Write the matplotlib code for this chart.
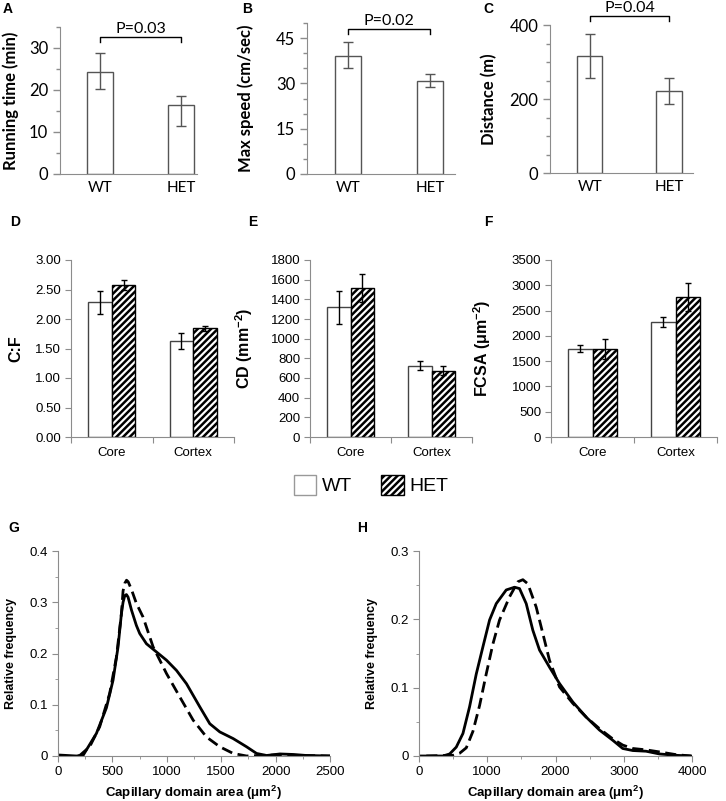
import numpy as np
import matplotlib
matplotlib.use("Agg")
from matplotlib import pyplot as plt
from matplotlib.patches import Patch
from matplotlib.ticker import MultipleLocator, FuncFormatter
import matplotlib.transforms as mtrans

# ---- data ----
groups = ["WT", "HET"]

# top row (A-C): mean, lower err, upper err
run_time = [24.4, 16.5]
run_time_lo = [4.1, 5.0]
run_time_hi = [4.4, 2.1]
max_speed = [39.2, 30.9]
max_speed_lo = [4.2, 2.2]
max_speed_hi = [4.5, 2.2]
distance = [317, 222]
distance_lo = [59, 35]
distance_hi = [60, 34]
p_values = ["P=0.03", "P=0.02", "P=0.04"]

# middle row (D-F): Core, Cortex
regions = ["Core", "Cortex"]
cf_wt = [2.28, 1.63]
cf_wt_err = [0.19, 0.14]
cf_het = [2.58, 1.84]
cf_het_err = [0.085, 0.035]
cd_wt = [1318, 727]
cd_wt_err = [165, 42]
cd_het = [1515, 676]
cd_het_err = [138, 44]
fcsa_wt = [1743, 2272]
fcsa_wt_err = [69, 95]
fcsa_het = [1743, 2767]
fcsa_het_err = [198, 271]

# bottom row (G-H): capillary domain area distributions
g_wt_x = [0, 169, 230, 353, 445, 506, 552, 583, 598, 614, 629, 644, 675, 720, 751, 813,
          905, 997, 1089, 1181, 1303, 1395, 1487, 1610, 1733, 1825, 1917, 2040, 2162,
          2285, 2500]
g_wt_y = [0.002, 0.0, 0.001, 0.044, 0.094, 0.148, 0.213, 0.278, 0.300, 0.313, 0.315,
          0.310, 0.285, 0.255, 0.239, 0.219, 0.203, 0.187, 0.167, 0.141, 0.096, 0.063,
          0.047, 0.034, 0.018, 0.005, 0.001, 0.004, 0.003, 0.001, 0.0]
g_het_x = [184, 200, 291, 383, 475, 537, 583, 598, 614, 630, 645, 675, 720, 782, 874,
           997, 1120, 1242, 1365, 1487, 1610, 1733, 2000, 2500]
g_het_y = [0.0, 0.001, 0.018, 0.057, 0.122, 0.193, 0.278, 0.322, 0.337, 0.343, 0.340,
           0.325, 0.298, 0.271, 0.213, 0.161, 0.115, 0.07, 0.037, 0.018, 0.005, 0.0,
           0.002, 0.0]
h_wt_x = [0, 351, 449, 546, 644, 741, 839, 937, 1034, 1132, 1278, 1400, 1473, 1571, 1668,
          1766, 1912, 2059, 2254, 2449, 2644, 2839, 2985, 3132, 3327, 3522, 3766, 3985]
h_wt_y = [0.0, 0.0, 0.003, 0.013, 0.033, 0.072, 0.12, 0.16, 0.199, 0.223, 0.243, 0.247,
          0.245, 0.223, 0.184, 0.155, 0.13, 0.106, 0.079, 0.057, 0.038, 0.023, 0.011,
          0.008, 0.007, 0.003, 0.001, 0.0]
h_het_x = [107, 500, 595, 693, 790, 888, 985, 1083, 1180, 1327, 1449, 1522, 1595, 1717,
           1815, 1912, 2059, 2254, 2449, 2644, 2839, 2985, 3132, 3327, 3522, 3766, 3985]
h_het_y = [0.0, 0.001, 0.004, 0.012, 0.036, 0.074, 0.12, 0.164, 0.199, 0.233, 0.255,
           0.258, 0.252, 0.218, 0.179, 0.14, 0.101, 0.077, 0.057, 0.04, 0.025, 0.016,
           0.011, 0.009, 0.006, 0.002, 0.0]

W, H = 726, 801
plt.rcParams['hatch.linewidth'] = 1.8
plt.rcParams['mathtext.default'] = 'regular'
fig = plt.figure(figsize=(W / 100, H / 100), dpi=100)


def box(x0, y0, x1, y1):
  return [x0 / W, 1 - y1 / H, (x1 - x0) / W, (y1 - y0) / H]


def letter(x, y, s):
  fig.text(x / W, 1 - y / H, s, fontsize=10, fontweight='bold',
           family='Liberation Sans', va='center', ha='left')


SPINE = '#8c8c8c'
top_font = 'Lato'
arial = 'Liberation Sans'

# ---- top row ----
top = [
  (box(60, 27, 197, 174), run_time, run_time_lo, run_time_hi, 35, 10, 5, 1.2,
   'Running time (min)', -0.30, 0.93, 'A', 3),
  (box(307, 23, 455, 174), max_speed, max_speed_lo, max_speed_hi, 50, 15, 5, 1.3,
   'Max speed (cm/sec)', -0.36, 0.96, 'B', 242),
  (box(550, 25, 693, 173), distance, distance_lo, distance_hi, 400, 200, 50, 1.3,
   'Distance (m)', -0.37, 1.06, 'C', 483),
]
for i, (rect, vals, lo, hi, ymax, major, minor, xr, ylab, lx, bf, let, lpx) in enumerate(top):
  ax = fig.add_axes(rect)
  x = np.arange(len(groups))
  ax.bar(x, vals, width=0.32, color='white', edgecolor='#555555', linewidth=1)
  ax.errorbar(x, vals, yerr=[lo, hi], fmt='none', ecolor='#555555', elinewidth=1,
              capsize=3.5, capthick=1)
  ax.set_xlim(-0.5, xr)
  ax.set_ylim(0, ymax)
  ax.yaxis.set_major_locator(MultipleLocator(major))
  ax.yaxis.set_minor_locator(MultipleLocator(minor))
  ax.set_xticks(x)
  ax.set_xticklabels(groups, family=top_font, fontsize=11)
  for t in ax.get_yticklabels():
    t.set_family(top_font)
    t.set_fontsize(12)
  ax.tick_params(axis='x', length=0, pad=5)
  ax.tick_params(axis='y', which='major', length=5, color=SPINE, width=1)
  ax.tick_params(axis='y', which='minor', length=3, color=SPINE, width=1)
  for s in ['top', 'right']:
    ax.spines[s].set_visible(False)
  for s in ['left', 'bottom']:
    ax.spines[s].set_color(SPINE)
  ax.set_ylabel(ylab, family=top_font, fontweight='bold', fontsize=12)
  ax.yaxis.set_label_coords(lx, 0.5)
  # significance bracket
  tr = mtrans.blended_transform_factory(ax.transData, ax.transAxes)
  ax.plot([x[0], x[0], x[1], x[1]], [bf - 0.035, bf, bf, bf - 0.035], color='black',
          lw=1, transform=tr, clip_on=False)
  ax.text((x[0] + x[1]) / 2, bf + 0.055, p_values[i], transform=tr, ha='center',
          va='center', family=top_font, fontsize=11.5)
  letter(lpx, 9, let)

# ---- middle row ----
mid = [
  (box(71, 260, 234, 437), cf_wt, cf_wt_err, cf_het, cf_het_err, 3.0, 0.5,
   lambda v, p: '%.2f' % v, 'C:F', -0.29, 'D', 10),
  (box(310, 260, 472, 437), cd_wt, cd_wt_err, cd_het, cd_het_err, 1800, 200,
   lambda v, p: '%d' % v, 'CD (mm$^{-2}$)', -0.34, 'E', 248),
  (box(551, 260, 717, 437), fcsa_wt, fcsa_wt_err, fcsa_het, fcsa_het_err, 3500, 500,
   lambda v, p: '%d' % v, 'FCSA (μm$^{-2}$)', -0.35, 'F', 484),
]
bw = 0.29
for rect, wt, wte, het, hete, ymax, step, fmt, ylab, lx, let, lpx in mid:
  ax = fig.add_axes(rect)
  x = np.arange(len(regions))
  ax.bar(x - bw / 2, wt, width=bw, color='white', edgecolor='#444444', linewidth=1)
  ax.bar(x + bw / 2, het, width=bw, color='white', edgecolor='black', linewidth=1,
         hatch='/////')
  ax.errorbar(x - bw / 2, wt, yerr=wte, fmt='none', ecolor='black', elinewidth=1,
              capsize=2.5, capthick=1)
  ax.errorbar(x + bw / 2, het, yerr=hete, fmt='none', ecolor='black', elinewidth=1,
              capsize=2.5, capthick=1)
  ax.set_xlim(-0.5, len(regions) - 0.5)
  ax.set_ylim(0, ymax)
  ax.yaxis.set_major_locator(MultipleLocator(step))
  ax.yaxis.set_major_formatter(FuncFormatter(fmt))
  ax.set_xticks(np.arange(-0.5, len(regions), 1.0))
  ax.set_xticklabels([])
  ax.set_xticks(x, minor=True)
  ax.set_xticklabels(regions, minor=True, family=arial, fontsize=9.5)
  ax.tick_params(axis='x', which='minor', length=0, pad=7)
  ax.tick_params(axis='x', which='major', length=4, color=SPINE)
  ax.tick_params(axis='y', length=4, color=SPINE, pad=3)
  for t in ax.get_yticklabels():
    t.set_family(arial)
    t.set_fontsize(9.5)
  for s in ['top', 'right']:
    ax.spines[s].set_visible(False)
  for s in ['left', 'bottom']:
    ax.spines[s].set_color(SPINE)
  ax.set_ylabel(ylab, family=arial, fontweight='bold', fontsize=11.5)
  ax.yaxis.set_label_coords(lx, 0.5)
  letter(lpx, 222, let)

# legend
handles = [Patch(facecolor='white', edgecolor='#999999', label='WT'),
           Patch(facecolor='white', edgecolor='black', hatch='/////', label='HET')]
fig.legend(handles=handles, loc='center', bbox_to_anchor=(371 / W, 1 - 485 / H),
           ncol=2, frameon=False, prop={'family': arial, 'size': 14},
           handlelength=1.15, handleheight=1.25, handletextpad=0.3, columnspacing=1.5)

# ---- bottom row ----
bottom = [
  (box(58, 551, 330, 756), g_wt_x, g_wt_y, g_het_x, g_het_y, 2500, 500, 250, 0.4, 'G', 8),
  (box(419, 551, 692, 756), h_wt_x, h_wt_y, h_het_x, h_het_y, 4000, 1000, 500, 0.3, 'H', 357),
]
for rect, wx, wy, hx, hy, xmax, xmaj, xmin, ymax, let, lpx in bottom:
  ax = fig.add_axes(rect)
  ax.plot(wx, wy, color='black', lw=2.0, solid_joinstyle='round')
  ax.plot(hx, hy, color='black', lw=2.0, dashes=(4, 2))
  ax.set_xlim(0, xmax)
  ax.set_ylim(0, ymax)
  ax.xaxis.set_major_locator(MultipleLocator(xmaj))
  ax.xaxis.set_minor_locator(MultipleLocator(xmin))
  ax.yaxis.set_major_locator(MultipleLocator(0.1))
  ax.yaxis.set_minor_locator(MultipleLocator(0.05))
  ax.yaxis.set_major_formatter(FuncFormatter(lambda v, p: '0' if v == 0 else '%.1f' % v))
  ax.tick_params(which='major', length=4, color=SPINE)
  ax.tick_params(which='minor', length=2.5, color=SPINE)
  for t in ax.get_xticklabels() + ax.get_yticklabels():
    t.set_family(arial)
    t.set_fontsize(9.5)
  for s in ['top', 'right']:
    ax.spines[s].set_visible(False)
  for s in ['left', 'bottom']:
    ax.spines[s].set_color(SPINE)
  ax.set_xlabel('Capillary domain area (μm$^{2}$)', family=arial, fontweight='bold',
                fontsize=9.5)
  ax.xaxis.set_label_coords(0.5, -0.135)
  ax.set_ylabel('Relative frequency', family=arial, fontweight='bold', fontsize=9)
  ax.yaxis.set_label_coords(-0.15, 0.5)
  letter(lpx, 528, let)

fig.savefig('out.png', dpi=100)
